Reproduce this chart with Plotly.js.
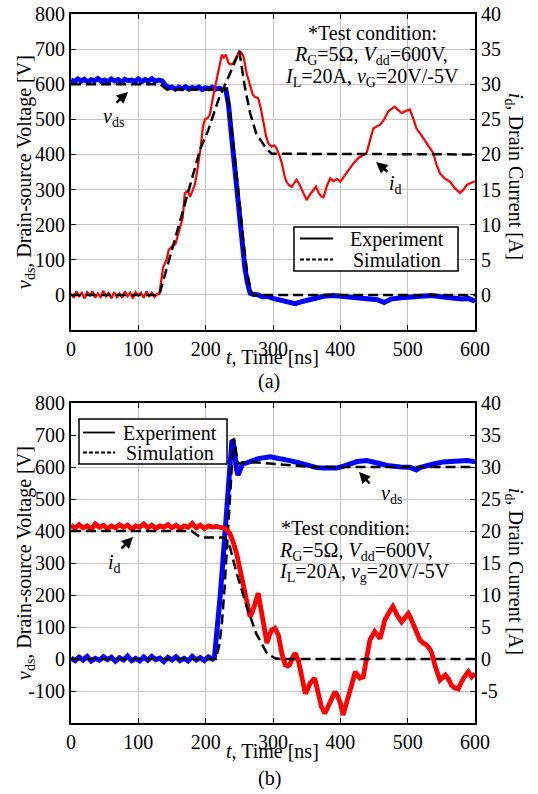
<!DOCTYPE html>
<html>
<head>
<meta charset="utf-8">
<script src="https://cdn.plot.ly/plotly-3.0.1.min.js"></script>
<style>html,body{margin:0;padding:0;background:#fff;}#chart{width:538px;height:794px;}</style>
</head>
<body>
<div id="chart"></div>
<script>
// ---------------- DATA ----------------
// (a) top panel
const tA_vdsExp = [0,5,10,15,20,25,30,35,40,45,50,55,60,65,70,75,80,85,90,95,100,105,110,115,120,125,130,135,140,145,150,155,160,165,170,175,180,185,190,195,200,205,210,215,220,225,230,234,238,243,247,252,258,262,266,270,278,285,292,300,310,320,333,345,360,375,390,400,415,430,445,455,465,475,490,505,520,535,550,565,580,590,600];
const vA_vdsExp = [612,607,615,609,614,606,613,610,616,608,612,607,615,609,613,606,614,610,612,608,615,607,613,609,616,608,612,610,598,590,592,586,591,587,593,586,590,588,592,585,590,587,591,586,589,585,585,540,461,370,270,180,80,35,5,2,0,-6,-4,-10,-14,-18,-25,-18,-10,-4,-2,-4,-6,-10,-12,-14,-22,-12,-8,-7,-3,-2,-5,-8,-12,-10,-18];
const tA_vdsSim = [0,133,142,231,236,244,250,256,262,268,272,600];
const vA_vdsSim = [600,600,585,585,520,380,270,150,60,5,0,0];
const tA_idExp = [0,4,8,12,16,20,24,28,32,36,40,44,48,52,56,60,64,68,72,76,80,84,88,92,96,100,104,108,112,116,120,124,128,
  131,137,142,145,150,155,162,166,169,173,177,181,184,188,192,196,199,203,206,211,215,219,224,227,230,234,238,241,246,250,253,256,261,266,270,273,278,282,286,290,293,298,302,305,309,313,317,320,324,328,332,335,339,343,347,350,355,360,364,368,372,375,380,385,390,395,400,405,409,415,420,427,433,439,444,449,454,459,465,471,476,481,486,491,497,503,508,513,520,528,533,538,543,548,555,563,570,578,583,588,593,598,600];
const iA_idExp = [0.2,-0.4,0.5,-0.2,0.3,-0.5,0.4,-0.1,0.5,-0.4,0.2,-0.3,0.6,-0.2,0.3,-0.5,0.4,-0.3,0.2,-0.4,0.5,-0.2,0.3,-0.5,0.4,-0.1,0.3,-0.4,0.5,-0.2,0.3,-0.3,0.1,
  0.1,4,5,6.4,6.9,7.2,9.5,11,14.5,14.8,14,15,15.7,18,20.6,24,25,25.2,25.6,28.2,30,31.6,34.2,33.8,34.2,33,32.8,33,34,34.7,34.5,34,31.5,29.7,28.5,28.2,28,26.5,24.5,22.5,21.6,21.1,21.3,20.9,20,18.8,17,16.1,15.6,15.4,16,16.4,15.8,15,14,13.5,14.3,15,15.4,14.5,14,13.9,15.5,16.6,16.2,16.5,16.1,16.8,17.3,18,18.8,19.5,19.8,20.2,22,23.7,24,24.2,25,26.1,26.5,26.8,26.3,25.9,26.2,26.4,25.2,23.7,22.8,21.6,20.8,20.2,18.5,17.3,16.6,16.1,15.2,14.5,15,15.7,15.9,16.1,16.2];
const tA_idSim = [0,131,164,192,204,219,236,250,258,266,275,288,298,600];
const iA_idSim = [0,0,11.2,20.8,23.5,27.8,31.5,34.7,29.7,25.9,23,21.1,20.1,20];

// (b) bottom panel
const tB_vdsExp = [0,6,12,18,24,30,36,42,48,54,60,66,72,78,84,90,96,102,108,114,120,126,132,138,144,150,156,162,168,174,180,186,192,198,204,210,
  213,217,221,225,229,232,235,237,239,241,243,246,248,251,255,260,265,270,275,280,288,296,305,315,325,335,345,355,365,375,385,395,405,414,425,439,450,460,469,480,490,503,510,513,518,528,540,553,565,578,588,598,600];
const vB_vdsExp = [3,-5,6,-3,8,-6,2,-4,7,-2,5,-7,4,-3,9,-5,2,-6,6,-4,8,-2,3,-8,5,-3,7,-5,2,-6,8,-3,4,-5,6,0,
  5,80,184,290,393,470,549,610,684,680,630,590,575,590,611,612,617,620,624,627,630,632,628,622,620,615,608,603,598,597,596,597,603,610,617,620,616,610,605,601,600,599,595,591,598,605,610,616,618,622,620,617,618];
const tB_vdsSim = [0,215,220,224,228,232,236,240,242,245,248,255,270,300,340,360,600];
const vB_vdsSim = [0,0,40,110,220,370,520,640,690,650,611,612,615,610,602,600,600];
const tB_idExp = [0,6,12,18,24,30,36,42,48,54,60,66,72,78,84,90,96,102,108,114,120,126,132,138,144,150,156,162,168,174,180,186,192,198,204,210,216,222,
  226,229,233,236,241,246,250,253,257,261,264,266,270,273,276,278,281,283,287,291,295,298,303,305,308,313,318,322,325,330,333,338,343,348,352,355,362,367,372,377,381,385,392,396,400,404,408,412,417,422,426,429,434,439,444,451,455,459,463,466,472,478,481,484,491,496,501,504,508,513,518,523,528,533,536,541,545,548,552,556,561,565,570,575,579,583,590,595,600];
const iB_idExp = [20.9,20.4,21.0,20.5,20.8,20.3,21.1,20.6,20.9,20.4,20.8,20.5,21.0,20.6,20.9,20.3,20.8,20.6,21.1,20.5,20.9,20.4,20.8,20.6,21.0,20.5,20.9,20.4,20.8,20.6,21.2,20.5,20.9,20.4,20.8,20.6,20.7,20.6,
  20.5,20.4,20,19.6,18.2,16.5,14.5,12.9,10.8,8.7,7,6.6,7.5,8.7,9.8,10.3,8.5,7.1,4.8,2.5,3.8,4.5,4.8,4.5,3.75,0.9,-0.9,-1.1,-0.9,0.4,0.9,-0.4,-2.8,-5.4,-4.6,-3.8,-3.0,-5.4,-7.5,-8.5,-7.5,-6.4,-5.1,-5.8,-6.9,-8.75,-7.4,-5.9,-4,-2.0,-2.6,-3.0,-2.8,0,3.0,4.3,3.8,3.2,4.8,6.1,7.2,8.2,7.6,6.9,5.8,6.4,7.1,6.5,5.6,4.2,3.0,2.5,2.2,1.5,0.9,-1.2,-2.5,-3.3,-2.9,-2.5,-3.2,-4.1,-4.5,-4.7,-3.8,-3.0,-2.0,-2.8,-2.3];
const tB_idSim = [0,179,192,229,236,246,261,275,291,303,310,600];
const iB_idSim = [20,20,19,19,17.5,13.4,8.2,4.0,0.9,0.1,0,0];

// tick labels
const xTicks = [0,100,200,300,400,500,600];
const xTickText = ['0','100','200','300','400','500','600'];
const yA_ticks = [0,100,200,300,400,500,600,700,800];
const yA_tickText = ['0','100','200','300','400','500','600','700','800'];
const y2A_ticks = [0,5,10,15,20,25,30,35,40];
const y2A_tickText = ['0','5','10','15','20','25','30','35','40'];
const yB_ticks = [-100,0,100,200,300,400,500,600,700,800];
const yB_tickText = ['-100','0','100','200','300','400','500','600','700','800'];
const y2B_ticks = [-5,0,5,10,15,20,25,30,35,40];
const y2B_tickText = ['-5','0','5','10','15','20','25','30','35','40'];

// ---------------- STYLE / LAYOUT ----------------
const W = 538, H = 794;
const px = x => x / W;
const py = y => 1 - y / H;
const FONT = 'Liberation Serif';
const BLUE = '#0000ff', RED = '#ff0000';
const DASH = '10px,5px';

const traces = [
  {x: tA_vdsExp, y: vA_vdsExp, xaxis: 'x', yaxis: 'y', mode: 'lines', line: {color: BLUE, width: 5}},
  {x: tA_vdsSim, y: vA_vdsSim, xaxis: 'x', yaxis: 'y', mode: 'lines', line: {color: '#000', width: 2.5, dash: DASH}},
  {x: tA_idExp, y: iA_idExp, xaxis: 'x', yaxis: 'y2', mode: 'lines', line: {color: RED, width: 2.2}},
  {x: tA_idSim, y: iA_idSim, xaxis: 'x', yaxis: 'y2', mode: 'lines', line: {color: '#000', width: 2.5, dash: DASH}},
  {x: tB_vdsExp, y: vB_vdsExp, xaxis: 'x2', yaxis: 'y3', mode: 'lines', line: {color: BLUE, width: 5}},
  {x: tB_vdsSim, y: vB_vdsSim, xaxis: 'x2', yaxis: 'y3', mode: 'lines', line: {color: '#000', width: 2.5, dash: DASH}},
  {x: tB_idExp, y: iB_idExp, xaxis: 'x2', yaxis: 'y4', mode: 'lines', line: {color: RED, width: 4.8}},
  {x: tB_idSim, y: iB_idSim, xaxis: 'x2', yaxis: 'y4', mode: 'lines', line: {color: '#000', width: 2.5, dash: DASH}}
].map(t => Object.assign(t, {showlegend: false, hoverinfo: 'skip'}));

const xdom = [px(71), px(475)];
const domA = [py(330), py(14)];
const domB = [py(723), py(403)];

const axBase = {
  showline: true, linecolor: '#000', linewidth: 2,
  ticks: 'inside', ticklen: 5, tickwidth: 1, tickcolor: '#000',
  tickfont: {family: FONT, size: 20, color: '#000'},
  zeroline: false, fixedrange: true, tickmode: 'array'
};
const xBase = Object.assign({}, axBase, {range: [0, 600], tickvals: xTicks, ticktext: xTickText,
  showgrid: true, gridcolor: '#c4c4c4', gridwidth: 1, mirror: 'ticks', domain: xdom});
const yLeft = Object.assign({}, axBase, {showgrid: true, gridcolor: '#c4c4c4', gridwidth: 1, mirror: false});
const yRight = Object.assign({}, axBase, {showgrid: false, side: 'right'});

const layout = {
  width: W, height: H,
  margin: {l: 0, r: 0, t: 0, b: 0},
  paper_bgcolor: '#fff', plot_bgcolor: '#fff',
  showlegend: false,
  font: {family: FONT, size: 20, color: '#000'},
  xaxis: Object.assign({}, xBase, {anchor: 'y'}),
  yaxis: Object.assign({}, yLeft, {domain: domA, range: [-100, 800], tickvals: yA_ticks, ticktext: yA_tickText, anchor: 'x'}),
  yaxis2: Object.assign({}, yRight, {overlaying: 'y', range: [-5, 40], tickvals: y2A_ticks, ticktext: y2A_tickText, anchor: 'x'}),
  xaxis2: Object.assign({}, xBase, {anchor: 'y3'}),
  yaxis3: Object.assign({}, yLeft, {domain: domB, range: [-200, 800], tickvals: yB_ticks, ticktext: yB_tickText, anchor: 'x2'}),
  yaxis4: Object.assign({}, yRight, {overlaying: 'y3', range: [-10, 40], tickvals: y2B_ticks, ticktext: y2B_tickText, anchor: 'x2'}),
  shapes: [
    // white backgrounds behind test-condition text
    {type: 'rect', xref: 'paper', yref: 'paper', x0: px(265), x1: px(474), y0: py(90), y1: py(15), fillcolor: '#fff', line: {width: 0}, layer: 'between'},
    {type: 'rect', xref: 'paper', yref: 'paper', x0: px(277), x1: px(474), y0: py(588), y1: py(510), fillcolor: '#fff', line: {width: 0}, layer: 'between'},
    // legend (a)
    {type: 'rect', xref: 'paper', yref: 'paper', x0: px(294), x1: px(458), y0: py(271), y1: py(227), fillcolor: '#fff', line: {color: '#000', width: 1.5}, layer: 'above'},
    {type: 'line', xref: 'paper', yref: 'paper', x0: px(300), x1: px(333), y0: py(238.5), y1: py(238.5), line: {color: '#000', width: 1.8}},
    {type: 'line', xref: 'paper', yref: 'paper', x0: px(300), x1: px(333), y0: py(259.5), y1: py(259.5), line: {color: '#000', width: 1.8, dash: '4px,2px'}},
    // legend (b)
    {type: 'rect', xref: 'paper', yref: 'paper', x0: px(79), x1: px(227), y0: py(464), y1: py(419), fillcolor: '#fff', line: {color: '#000', width: 1.5}, layer: 'above'},
    {type: 'line', xref: 'paper', yref: 'paper', x0: px(83), x1: px(115), y0: py(432.5), y1: py(432.5), line: {color: '#000', width: 1.8}},
    {type: 'line', xref: 'paper', yref: 'paper', x0: px(83), x1: px(115), y0: py(452.5), y1: py(452.5), line: {color: '#000', width: 1.8, dash: '4px,2px'}}
  ],
  annotations: []
};

function txt(x, y, text, opts) {
  layout.annotations.push(Object.assign({xref: 'paper', yref: 'paper', x: px(x), y: py(y), text: text,
    showarrow: false, xanchor: 'center', yanchor: 'middle', font: {family: FONT, size: 20, color: '#000'}}, opts || {}));
}
function arrow(x, y, ax, ay) {
  layout.annotations.push({xref: 'paper', yref: 'paper', x: px(x), y: py(y), ax: ax, ay: ay, text: '',
    showarrow: true, arrowhead: 2, arrowsize: 0.9, arrowwidth: 2.5, arrowcolor: '#000', standoff: 0});
}

// axis titles
txt(25, 172, '<i>v</i><sub>ds</sub>, Drain-source Voltage [V]', {textangle: -90});
txt(515, 176, '<i>i</i><sub>d</sub>, Drain Current [A]', {textangle: 90});
txt(272, 357, '<i>t</i>, Time [ns]');
txt(269, 382, '(a)');
txt(25, 563, '<i>v</i><sub>ds</sub>, Drain-source Voltage [V]', {textangle: -90});
txt(515, 571, '<i>i</i><sub>d</sub>, Drain Current [A]', {textangle: 90});
txt(272, 751, '<i>t</i>, Time [ns]');
txt(269, 778, '(b)');

// test conditions (a) – centred
txt(372, 33, '*Test condition:');
txt(371, 56, '<i>R</i><sub>G</sub>=5Ω, <i>V</i><sub>dd</sub>=600V,');
txt(372, 77, '<i>I</i><sub>L</sub>=20A, <i>v</i><sub>G</sub>=20V/-5V');
// test conditions (b) – left aligned
txt(279, 528, '*Test condition:', {xanchor: 'left'});
txt(277, 551, '<i>R</i><sub>G</sub>=5Ω, <i>V</i><sub>dd</sub>=600V,', {xanchor: 'left'});
txt(277, 572, '<i>I</i><sub>L</sub>=20A, <i>v</i><sub>g</sub>=20V/-5V', {xanchor: 'left'});

// legends text
txt(397, 239, 'Experiment');
txt(397, 260, 'Simulation');
txt(170, 433, 'Experiment');
txt(170, 453, 'Simulation');

// curve labels and arrows
txt(113, 118, '<i>v</i><sub>ds</sub>');
arrow(128, 92, -13, 12);
txt(395, 184, '<i>i</i><sub>d</sub>');
arrow(376, 162, 13, 11);
txt(114, 563, '<i>i</i><sub>d</sub>');
arrow(133, 537, -13, 13);
txt(391, 494, '<i>v</i><sub>ds</sub>');
arrow(359, 472, 12, 13);

Plotly.newPlot('chart', traces, layout, {staticPlot: true, displayModeBar: false});
</script>
</body>
</html>
